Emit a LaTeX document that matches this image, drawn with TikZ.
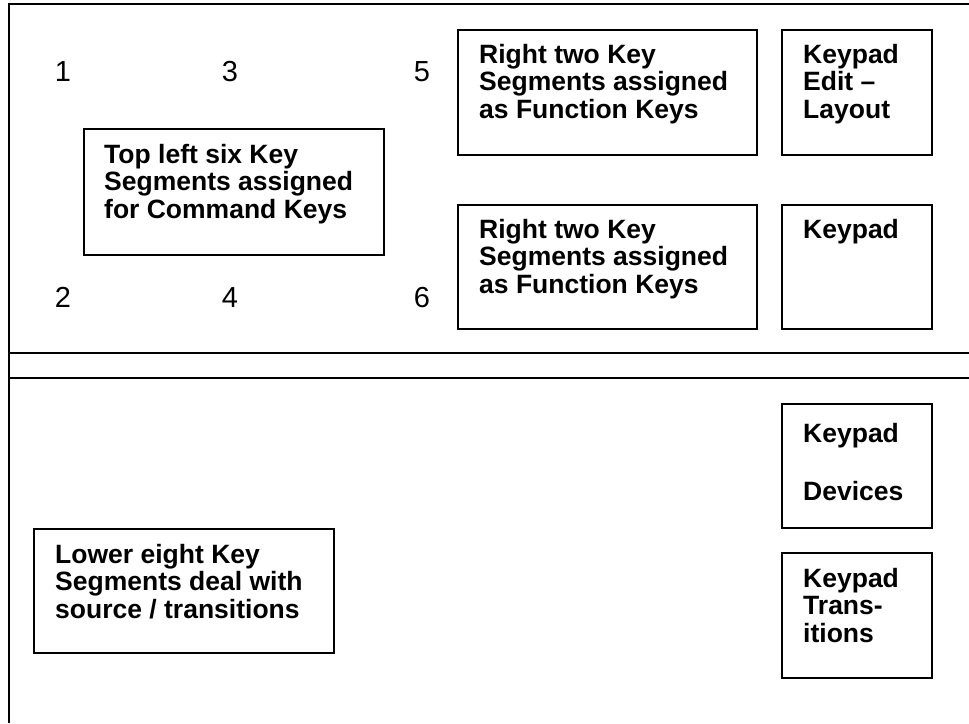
\documentclass[tikz,border=0pt]{standalone}
\usepackage{fontspec}
\setmainfont{Liberation Sans}
\begin{document}
\begin{tikzpicture}[x=1pt,y=-1pt,
  box/.style={draw=black,line width=2pt,anchor=north west,inner sep=0pt,minimum width=#1},
  lbl/.style={anchor=base west,inner sep=0pt,align=left,font=\fontsize{26.5}{27.5}\selectfont\bfseries},
  num/.style={anchor=base,inner sep=0pt,font=\fontsize{29}{30}\selectfont}]
\useasboundingbox (0,0) rectangle (969,723);
% frame
\coordinate (tl) at (8.5,4);
\coordinate (tr) at (969,4);
\coordinate (bl) at (8.5,723);
\coordinate (m1l) at (8.5,353);
\coordinate (m1r) at (969,353);
\coordinate (m2l) at (8.5,378);
\coordinate (m2r) at (969,378);
\draw[line width=2pt] (tr) -- (tl) -- (bl);
\draw[line width=2pt] (m1l) -- (m1r);
\draw[line width=2pt] (m2l) -- (m2r);
% numbers
\node[num] (n1) at (63,81) {1};
\node[num] (n3) at (230,81) {3};
\node[num] (n5) at (422,81) {5};
\node[num] (n2) at (63,307) {2};
\node[num] (n4) at (230,307) {4};
\node[num] (n6) at (422,307) {6};
% boxes
\node[box=300pt,minimum height=126pt] (b1) at (83,128) {};
\node[box=299pt,minimum height=125pt] (b5) at (457,29) {};
\node[box=150pt,minimum height=125pt] (b7) at (781,29) {};
\node[box=299pt,minimum height=124pt] (b6) at (457,204) {};
\node[box=150pt,minimum height=124pt] (b8) at (781,204) {};
\node[box=150pt,minimum height=124pt] (b9) at (781,403) {};
\node[box=150pt,minimum height=125pt] (b10) at (781,552) {};
\node[box=300pt,minimum height=124pt] (b11) at (33,528) {};
% texts (base anchor = baseline of last line)
\node[lbl] (t1) at (104,218) {Top left six Key\\Segments assigned\\for Command Keys};
\node[lbl] (t5) at (479,118) {Right two Key\\Segments assigned\\as Function Keys};
\node[lbl] (t7) at (803,118) {Keypad\\Edit --\\Layout};
\node[lbl] (t6) at (479,293) {Right two Key\\Segments assigned\\as Function Keys};
\node[lbl] (t8) at (803,238) {Keypad};
\node[lbl] (t9) at (803,500.5) {Keypad\\[31pt]Devices};
\node[lbl] (t10) at (803,642) {Keypad\\Trans-\\itions};
\node[lbl] (t11) at (55,618) {Lower eight Key\\Segments deal with\\source / transitions};
\end{tikzpicture}
\end{document}
